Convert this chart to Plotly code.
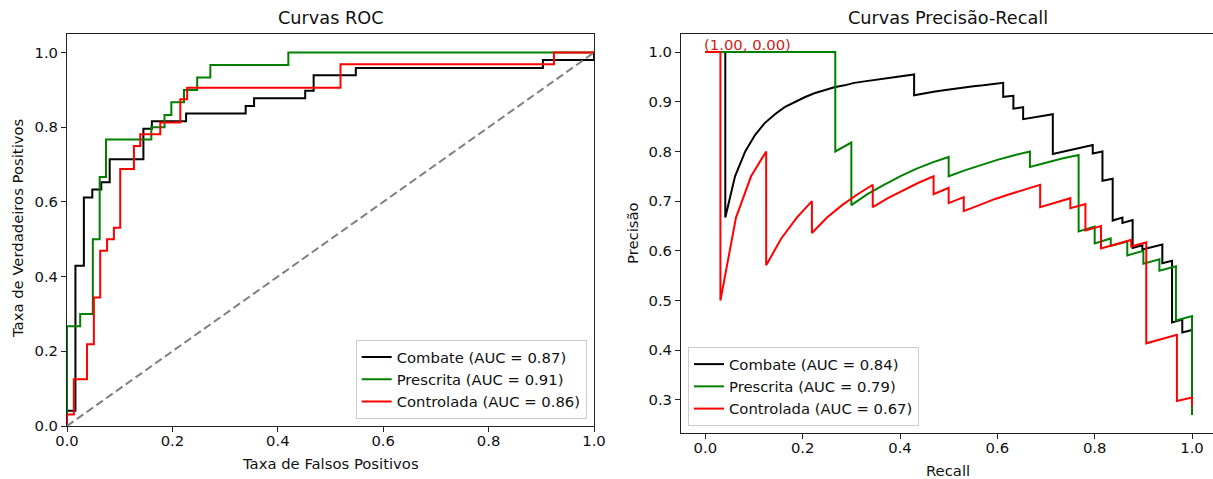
import plotly.graph_objects as go

# ---------------- data ----------------
classes = ["Combate", "Prescrita", "Controlada"]
colors = ["black", "green", "red"]
roc_auc = [0.87, 0.91, 0.86]
pr_auc = [0.84, 0.79, 0.67]

roc_fpr_combate = [0, 0, 0.016, 0.016, 0.032, 0.032, 0.048, 0.048, 0.065, 0.065, 0.081, 0.081,
                   0.145, 0.145, 0.161, 0.161, 0.226, 0.226, 0.339, 0.339, 0.355, 0.355, 0.452,
                   0.452, 0.468, 0.468, 0.548, 0.548, 0.903, 0.903, 1.0, 1.0]
roc_tpr_combate = [0, 0.041, 0.041, 0.429, 0.429, 0.612, 0.612, 0.633, 0.633, 0.653, 0.653, 0.714,
                   0.714, 0.796, 0.796, 0.816, 0.816, 0.837, 0.837, 0.857, 0.857, 0.878, 0.878,
                   0.898, 0.898, 0.939, 0.939, 0.959, 0.959, 0.980, 0.980, 1.0]

roc_fpr_prescrita = [0, 0, 0.025, 0.025, 0.049, 0.049, 0.062, 0.062, 0.074, 0.074, 0.160, 0.160,
                     0.185, 0.185, 0.198, 0.198, 0.222, 0.222, 0.247, 0.247, 0.272, 0.272, 0.420,
                     0.420, 1.0]
roc_tpr_prescrita = [0, 0.267, 0.267, 0.3, 0.3, 0.5, 0.5, 0.667, 0.667, 0.767, 0.767, 0.8, 0.8,
                     0.833, 0.833, 0.867, 0.867, 0.9, 0.9, 0.933, 0.933, 0.967, 0.967, 1.0, 1.0]

roc_fpr_controlada = [0, 0, 0.013, 0.013, 0.038, 0.038, 0.051, 0.051, 0.063, 0.063, 0.076, 0.076,
                      0.089, 0.089, 0.101, 0.101, 0.127, 0.127, 0.139, 0.139, 0.177, 0.177, 0.215,
                      0.215, 0.228, 0.228, 0.519, 0.519, 0.924, 0.924, 1.0]
roc_tpr_controlada = [0, 0.031, 0.031, 0.125, 0.125, 0.219, 0.219, 0.344, 0.344, 0.469, 0.469, 0.5,
                      0.5, 0.531, 0.531, 0.688, 0.688, 0.75, 0.75, 0.781, 0.781, 0.813, 0.813,
                      0.875, 0.875, 0.906, 0.906, 0.969, 0.969, 1.0, 1.0]

pr_rec_combate = [0, 0.041, 0.041, 0.061, 0.082, 0.102, 0.122, 0.143, 0.163, 0.184, 0.204, 0.224,
                  0.245, 0.265, 0.286, 0.306, 0.327, 0.347, 0.367, 0.388, 0.408, 0.429, 0.429,
                  0.449, 0.469, 0.490, 0.510, 0.531, 0.551, 0.571, 0.592, 0.612, 0.612, 0.633,
                  0.633, 0.653, 0.653, 0.673, 0.694, 0.714, 0.714, 0.735, 0.755, 0.776, 0.796,
                  0.796, 0.816, 0.816, 0.837, 0.837, 0.857, 0.857, 0.878, 0.878, 0.898, 0.898,
                  0.918, 0.939, 0.939, 0.959, 0.959, 0.980, 0.980, 1.0]
pr_prec_combate = [1.0, 1.0, 0.667, 0.75, 0.8, 0.833, 0.857, 0.875, 0.889, 0.9, 0.909, 0.917,
                   0.923, 0.929, 0.933, 0.938, 0.941, 0.944, 0.947, 0.95, 0.952, 0.955, 0.913,
                   0.917, 0.92, 0.923, 0.926, 0.929, 0.931, 0.933, 0.935, 0.938, 0.91, 0.912,
                   0.886, 0.889, 0.865, 0.868, 0.872, 0.875, 0.795, 0.8, 0.804, 0.809, 0.813,
                   0.796, 0.8, 0.741, 0.745, 0.661, 0.667, 0.656, 0.662, 0.606, 0.611, 0.603,
                   0.608, 0.613, 0.575, 0.58, 0.456, 0.462, 0.436, 0.441]

pr_rec_prescrita = [0, 0.267, 0.267, 0.3, 0.3, 0.333, 0.367, 0.4, 0.433, 0.467, 0.5, 0.5, 0.533,
                    0.567, 0.6, 0.633, 0.667, 0.667, 0.7, 0.733, 0.767, 0.767, 0.8, 0.8, 0.833,
                    0.833, 0.867, 0.867, 0.9, 0.9, 0.933, 0.933, 0.967, 0.967, 1.0, 1.0]
pr_prec_prescrita = [1.0, 1.0, 0.8, 0.818, 0.692, 0.714, 0.733, 0.75, 0.765, 0.778, 0.789, 0.75,
                     0.762, 0.773, 0.783, 0.792, 0.8, 0.769, 0.778, 0.786, 0.793, 0.639, 0.649,
                     0.615, 0.625, 0.61, 0.619, 0.591, 0.6, 0.574, 0.583, 0.56, 0.569, 0.46,
                     0.469, 0.27]

pr_rec_controlada = [0, 0.031, 0.031, 0.063, 0.094, 0.125, 0.125, 0.156, 0.188, 0.219, 0.219,
                     0.25, 0.281, 0.313, 0.344, 0.344, 0.375, 0.406, 0.438, 0.469, 0.469, 0.5,
                     0.5, 0.531, 0.531, 0.563, 0.594, 0.625, 0.656, 0.688, 0.688, 0.719, 0.75,
                     0.75, 0.781, 0.781, 0.813, 0.813, 0.844, 0.875, 0.875, 0.906, 0.906, 0.938,
                     0.969, 0.969, 1.0, 1.0]
pr_prec_controlada = [1.0, 1.0, 0.5, 0.667, 0.75, 0.8, 0.571, 0.625, 0.667, 0.7, 0.636, 0.667,
                      0.692, 0.714, 0.733, 0.688, 0.706, 0.722, 0.737, 0.75, 0.714, 0.727, 0.696,
                      0.708, 0.68, 0.692, 0.704, 0.714, 0.724, 0.733, 0.688, 0.697, 0.706, 0.686,
                      0.694, 0.641, 0.65, 0.605, 0.614, 0.622, 0.609, 0.617, 0.414, 0.423, 0.431,
                      0.298, 0.305, 0.288]

diag_x = [0, 1]
diag_y = [0, 1]

roc_ticks = [0.0, 0.2, 0.4, 0.6, 0.8, 1.0]
pr_xticks = [0.0, 0.2, 0.4, 0.6, 0.8, 1.0]
pr_yticks = [0.3, 0.4, 0.5, 0.6, 0.7, 0.8, 0.9, 1.0]

annot_text = "(1.00, 0.00)"

# ---------------- figure ----------------
W, H = 1213, 479
FONT = "DejaVu Sans"
FS = 14.8

roc_x = [roc_fpr_combate, roc_fpr_prescrita, roc_fpr_controlada]
roc_y = [roc_tpr_combate, roc_tpr_prescrita, roc_tpr_controlada]
pr_x = [pr_rec_combate, pr_rec_prescrita, pr_rec_controlada]
pr_y = [pr_prec_combate, pr_prec_prescrita, pr_prec_controlada]

fig = go.Figure()
for i, c in enumerate(classes):
    fig.add_trace(go.Scatter(
        x=roc_x[i], y=roc_y[i], mode="lines",
        line=dict(color=colors[i], width=2),
        name=f"{c} (AUC = {roc_auc[i]:.2f})",
        legend="legend", legendgroup=f"roc{i}",
        xaxis="x", yaxis="y"))
fig.add_trace(go.Scatter(
    x=diag_x, y=diag_y, mode="lines",
    line=dict(color="gray", width=2, dash="8px,4px"),
    showlegend=False, xaxis="x", yaxis="y"))
for i, c in enumerate(classes):
    fig.add_trace(go.Scatter(
        x=pr_x[i], y=pr_y[i], mode="lines",
        line=dict(color=colors[i], width=2),
        name=f"{c} (AUC = {pr_auc[i]:.2f})",
        legend="legend2", legendgroup=f"pr{i}",
        xaxis="x2", yaxis="y2"))

axis_common = dict(
    showgrid=False, zeroline=False, showline=True, mirror=True, automargin=False,
    linecolor="#222", linewidth=1, ticks="outside", ticklen=5,
    tickcolor="#222", tickwidth=1, tickformat=".1f",
    tickfont=dict(family=FONT, size=FS, color="#111"),
)

top = 1 - 33.9 / H
fig.update_layout(
    template="none",
    width=W, height=H, margin=dict(l=0, r=0, t=0, b=0, pad=0, autoexpand=False),
    paper_bgcolor="white", plot_bgcolor="white",
    font=dict(family=FONT, size=FS, color="#111"),
    xaxis=dict(domain=[67 / W, 594 / W], range=[0, 1], tickvals=roc_ticks,
               ticklabelstandoff=-4, **axis_common),
    yaxis=dict(domain=[1 - 426 / H, top], range=[0, 1.05], tickvals=roc_ticks, **axis_common),
    xaxis2=dict(domain=[681 / W, 1.0], range=[-0.05, (W - 705) / 487], tickvals=pr_xticks,
                anchor="y2", ticklabelstandoff=-4, **axis_common),
    yaxis2=dict(domain=[1 - 432.9 / H, top], range=[0.2338, 1.0365], tickvals=pr_yticks,
                anchor="x2", **axis_common),
    legend=dict(x=586.7 / W, y=1 - 419 / H, xanchor="right", yanchor="bottom",
                bgcolor="rgba(255,255,255,0.8)", bordercolor="#cccccc", borderwidth=1,
                font=dict(family=FONT, size=FS, color="#111"), itemwidth=30,
                tracegroupgap=0),
    legend2=dict(x=688 / W, y=1 - 426 / H, xanchor="left", yanchor="bottom",
                 bgcolor="rgba(255,255,255,0.8)", bordercolor="#cccccc", borderwidth=1,
                 font=dict(family=FONT, size=FS, color="#111"), itemwidth=30,
                 tracegroupgap=0),
    showlegend=True,
)

annots = [
    dict(text="Curvas ROC", x=330.5 / W, y=1 - 18 / H, font=dict(size=17.7)),
    dict(text="Curvas Precisão-Recall", x=948 / W, y=1 - 18 / H, font=dict(size=17.7)),
    dict(text="Taxa de Falsos Positivos", x=330.5 / W, y=1 - 463 / H, font=dict(size=FS)),
    dict(text="Recall", x=948 / W, y=1 - 470 / H, font=dict(size=FS)),
    dict(text="Taxa de Verdadeiros Positivos", x=18 / W, y=1 - 229 / H, textangle=-90,
         font=dict(size=FS)),
    dict(text="Precisão", x=632 / W, y=1 - 233 / H, textangle=-90, font=dict(size=FS)),
]
for a in annots:
    fig.add_annotation(xref="paper", yref="paper", showarrow=False,
                       xanchor="center", yanchor="middle", **a)

fig.add_annotation(x=0, y=1.0, xref="x2", yref="y2", text=annot_text, showarrow=False,
                   xanchor="left", yanchor="bottom", borderpad=0, xshift=-2, yshift=-2,
                   font=dict(family=FONT, size=FS, color="#cc1f1a"))

fig.write_html("out.html")
